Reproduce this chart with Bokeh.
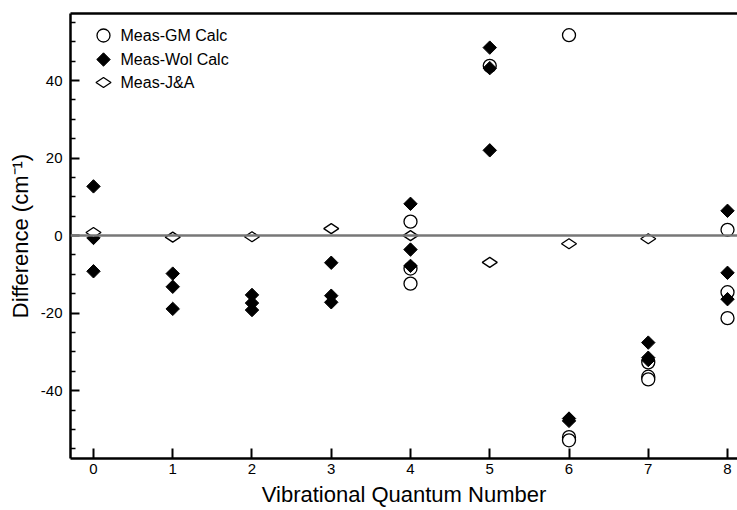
import math
from bokeh.plotting import figure
from bokeh.models import (Range1d, Span, LinearAxis, FixedTicker)
from bokeh.core.properties import value
from bokeh.embed import file_html
from bokeh.resources import INLINE

# ---- data ----
x_ticks = [0, 1, 2, 3, 4, 5, 6, 7, 8]
y_major_ticks = [-40, -20, 0, 20, 40]
y_minor_ticks = [-55, -50, -45, -35, -30, -25, -15, -10, -5, 5, 10, 15, 25, 30, 35, 45, 50, 55]
y_tick_labels = {-40: "-40", -20: "-20", 0: "0", 20: "20", 40: "40"}

gm_x = [4, 4, 4, 5, 6, 6, 6, 7, 7, 7, 8, 8, 8]
gm_y = [3.6, -8.5, -12.4, 43.8, 51.7, -52.0, -52.8, -32.7, -36.4, -37.1, 1.5, -14.6, -21.3]

wol_x = [0, 0, 0, 1, 1, 1, 2, 2, 2, 3, 3, 3, 4, 4, 4, 5, 5, 5, 6, 6, 7, 7, 7, 8, 8, 8]
wol_y = [12.7, -0.6, -9.2, -9.8, -13.2, -18.9, -15.3, -17.4, -19.2, -7.0, -15.5, -17.2,
         8.2, -3.6, -7.8, 48.5, 43.2, 22.0, -47.2, -47.8, -27.6, -31.5, -32.1, 6.4, -9.6, -16.4]

ja_x = [0, 1, 2, 3, 4, 5, 6, 7]
ja_y = [0.8, -0.4, -0.3, 1.8, 0.0, -6.9, -2.1, -0.8]

series_names = ["Meas-GM Calc", "Meas-Wol Calc", "Meas-J&A"]

FONT = "Liberation Sans"
W, H = 737, 510
LEFT, TOP, BOTTOM = 70, 13, 52
FRAME_W, FRAME_H = W - LEFT, H - TOP - BOTTOM

p = figure(width=W, height=H, output_backend="svg", toolbar_location=None,
           x_range=Range1d(-0.29, 8.126), y_range=Range1d(-57.5, 57.3),
           min_border_left=LEFT, min_border_right=0, min_border_top=TOP,
           min_border_bottom=BOTTOM)
p.outline_line_color = None
p.xgrid.visible = False
p.ygrid.visible = False
p.background_fill_color = "white"
# pixel-like ranges (from the frame's top-left) for the hand-made key
p.extra_x_ranges = {"kx": Range1d(0, FRAME_W)}
p.extra_y_ranges = {"ky": Range1d(FRAME_H, 0)}

# zero line
p.add_layout(Span(location=0, dimension="width", line_color="#777777", line_width=2.5))

# markers
r_gm = p.scatter(gm_x, gm_y, marker="circle", size=13, fill_color="white",
                 line_color="black", line_width=1.3)
r_wol = p.scatter(wol_x, wol_y, marker="square", size=9.5, angle=math.pi / 4,
                  fill_color="black", line_color="black", line_width=1)
r_ja = p.scatter(ja_x, ja_y, marker="diamond", size=15, angle=math.pi / 2,
                 fill_color="white", line_color="black", line_width=1.3)

# key (legend)
key_x = [33, 33, 33]
key_y = [22, 46, 69]
key_tx = [50, 50, 50]
p.scatter(key_x[0:1], key_y[0:1], x_range_name="kx", y_range_name="ky",
          marker="circle", size=13, fill_color="white", line_color="black", line_width=1.3)
p.scatter(key_x[1:2], key_y[1:2], x_range_name="kx", y_range_name="ky",
          marker="square", size=9.5, angle=math.pi / 4, fill_color="black",
          line_color="black", line_width=1)
p.scatter(key_x[2:3], key_y[2:3], x_range_name="kx", y_range_name="ky",
          marker="diamond", size=15, angle=math.pi / 2, fill_color="white",
          line_color="black", line_width=1.3)
p.text(key_tx, key_y, text=series_names, x_range_name="kx", y_range_name="ky",
       text_font=value(FONT), text_font_size="16px", text_color="black",
       text_baseline="middle", text_align="left")

# axes
xa = p.xaxis[0]
xa.ticker = FixedTicker(ticks=x_ticks)
xa.axis_label = "Vibrational Quantum Number"
ya = p.yaxis[0]
ya.ticker = FixedTicker(ticks=y_major_ticks, minor_ticks=y_minor_ticks)
ya.major_label_overrides = y_tick_labels
ya.axis_label = "Difference (cm\u207b\u00b9)"

for ax in (xa, ya):
    ax.axis_line_width = 2.5
    ax.axis_line_color = "black"
    ax.major_tick_out = 0
    ax.major_tick_line_width = 2
    ax.major_tick_line_color = "black"
    ax.minor_tick_out = 0
    ax.minor_tick_line_width = 1.5
    ax.major_label_text_font = FONT
    ax.major_label_text_font_size = "15px"
    ax.major_label_text_color = "black"
    ax.axis_label_text_font = FONT
    ax.axis_label_text_font_size = "22px"
    ax.axis_label_text_font_style = "normal"
    ax.axis_label_text_color = "black"

xa.major_tick_in = 10
xa.minor_tick_in = 0
xa.major_label_standoff = 5
xa.axis_label_standoff = 5
ya.major_tick_in = 9
ya.minor_tick_in = 5
ya.major_label_standoff = 8
ya.axis_label_standoff = 5

top = LinearAxis(ticker=FixedTicker(ticks=[]), major_tick_in=0, major_tick_out=0,
                 minor_tick_in=0, minor_tick_out=0, axis_line_width=2.5,
                 major_label_standoff=0, major_label_text_font_size="0px")
p.add_layout(top, "above")

open("out.html", "w").write(file_html(p, INLINE))
